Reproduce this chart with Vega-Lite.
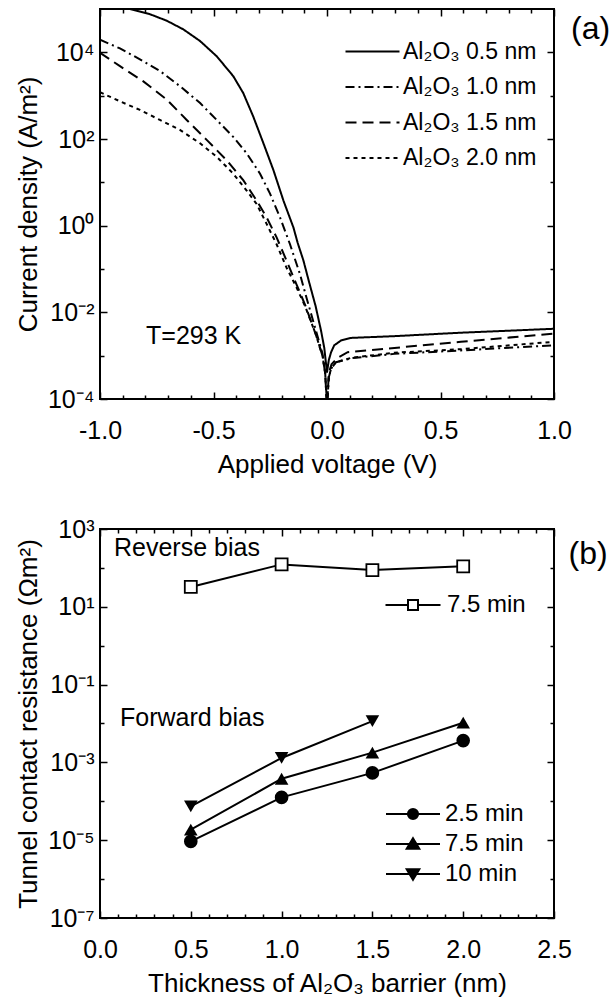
{
  "$schema": "https://vega.github.io/schema/vega-lite/v6.json",
  "padding": {"left": 14, "top": 0, "right": 0, "bottom": 0},
  "spacing": 130,
  "bounds": "flush",
  "config": {
    "view": {"stroke": "black", "strokeWidth": 2},
    "font": "Liberation Sans",
    "axis": {"domain": false, "grid": false, "tickColor": "black", "tickWidth": 1.5, "labelColor": "black", "titleColor": "black", "labelFont": "Liberation Sans", "titleFont": "Liberation Sans", "labelFontSize": 25, "titleFontSize": 26, "titleFontWeight": "normal", "labelFlush": false, "labelOverlap": false, "minExtent": 0},
    "legend": {"labelFont": "Liberation Sans", "labelColor": "black"},
    "text": {"font": "Liberation Sans", "color": "black"}
  },
  "datasets": {
    "jv": [
      {"series": "Al₂O₃ 0.5 nm", "V": -1.0, "J": 1.51e5},
      {"series": "Al₂O₃ 0.5 nm", "V": -0.868, "J": 1.0e5},
      {"series": "Al₂O₃ 0.5 nm", "V": -0.78, "J": 7.59e4},
      {"series": "Al₂O₃ 0.5 nm", "V": -0.706, "J": 5.37e4},
      {"series": "Al₂O₃ 0.5 nm", "V": -0.633, "J": 3.39e4},
      {"series": "Al₂O₃ 0.5 nm", "V": -0.559, "J": 1.82e4},
      {"series": "Al₂O₃ 0.5 nm", "V": -0.486, "J": 8.13e3},
      {"series": "Al₂O₃ 0.5 nm", "V": -0.413, "J": 2.82e3},
      {"series": "Al₂O₃ 0.5 nm", "V": -0.369, "J": 1.15e3},
      {"series": "Al₂O₃ 0.5 nm", "V": -0.325, "J": 331},
      {"series": "Al₂O₃ 0.5 nm", "V": -0.28, "J": 79.4},
      {"series": "Al₂O₃ 0.5 nm", "V": -0.236, "J": 19.1},
      {"series": "Al₂O₃ 0.5 nm", "V": -0.192, "J": 3.80},
      {"series": "Al₂O₃ 0.5 nm", "V": -0.148, "J": 0.912},
      {"series": "Al₂O₃ 0.5 nm", "V": -0.129, "J": 0.398},
      {"series": "Al₂O₃ 0.5 nm", "V": -0.104, "J": 0.158},
      {"series": "Al₂O₃ 0.5 nm", "V": -0.08, "J": 0.0525},
      {"series": "Al₂O₃ 0.5 nm", "V": -0.05, "J": 0.0138},
      {"series": "Al₂O₃ 0.5 nm", "V": -0.026, "J": 3.72e-3},
      {"series": "Al₂O₃ 0.5 nm", "V": -0.012, "J": 1.51e-3},
      {"series": "Al₂O₃ 0.5 nm", "V": 0.0, "J": 4.07e-4},
      {"series": "Al₂O₃ 0.5 nm", "V": 0.008, "J": 7.94e-4},
      {"series": "Al₂O₃ 0.5 nm", "V": 0.018, "J": 1.20e-3},
      {"series": "Al₂O₃ 0.5 nm", "V": 0.032, "J": 1.74e-3},
      {"series": "Al₂O₃ 0.5 nm", "V": 0.062, "J": 2.24e-3},
      {"series": "Al₂O₃ 0.5 nm", "V": 0.106, "J": 2.57e-3},
      {"series": "Al₂O₃ 0.5 nm", "V": 0.297, "J": 2.82e-3},
      {"series": "Al₂O₃ 0.5 nm", "V": 0.59, "J": 3.39e-3},
      {"series": "Al₂O₃ 0.5 nm", "V": 1.0, "J": 4.17e-3},

      {"series": "Al₂O₃ 1.0 nm", "V": -1.0, "J": 1.95e4},
      {"series": "Al₂O₃ 1.0 nm", "V": -0.912, "J": 1.23e4},
      {"series": "Al₂O₃ 1.0 nm", "V": -0.824, "J": 6.92e3},
      {"series": "Al₂O₃ 1.0 nm", "V": -0.736, "J": 3.72e3},
      {"series": "Al₂O₃ 1.0 nm", "V": -0.648, "J": 1.66e3},
      {"series": "Al₂O₃ 1.0 nm", "V": -0.559, "J": 676},
      {"series": "Al₂O₃ 1.0 nm", "V": -0.486, "J": 275},
      {"series": "Al₂O₃ 1.0 nm", "V": -0.413, "J": 112},
      {"series": "Al₂O₃ 1.0 nm", "V": -0.354, "J": 46.8},
      {"series": "Al₂O₃ 1.0 nm", "V": -0.295, "J": 15.8},
      {"series": "Al₂O₃ 1.0 nm", "V": -0.251, "J": 5.50},
      {"series": "Al₂O₃ 1.0 nm", "V": -0.207, "J": 1.55},
      {"series": "Al₂O₃ 1.0 nm", "V": -0.163, "J": 0.372},
      {"series": "Al₂O₃ 1.0 nm", "V": -0.119, "J": 0.0759},
      {"series": "Al₂O₃ 1.0 nm", "V": -0.09, "J": 0.0214},
      {"series": "Al₂O₃ 1.0 nm", "V": -0.05, "J": 3.98e-3},
      {"series": "Al₂O₃ 1.0 nm", "V": -0.02, "J": 1.12e-3},
      {"series": "Al₂O₃ 1.0 nm", "V": -0.008, "J": 3.98e-4},
      {"series": "Al₂O₃ 1.0 nm", "V": 0.0, "J": 7.94e-5},
      {"series": "Al₂O₃ 1.0 nm", "V": 0.008, "J": 3.16e-4},
      {"series": "Al₂O₃ 1.0 nm", "V": 0.018, "J": 5.01e-4},
      {"series": "Al₂O₃ 1.0 nm", "V": 0.04, "J": 7.08e-4},
      {"series": "Al₂O₃ 1.0 nm", "V": 0.106, "J": 8.71e-4},
      {"series": "Al₂O₃ 1.0 nm", "V": 0.297, "J": 1.10e-3},
      {"series": "Al₂O₃ 1.0 nm", "V": 0.59, "J": 1.32e-3},
      {"series": "Al₂O₃ 1.0 nm", "V": 1.0, "J": 1.74e-3},

      {"series": "Al₂O₃ 1.5 nm", "V": -1.0, "J": 9.77e3},
      {"series": "Al₂O₃ 1.5 nm", "V": -0.912, "J": 4.79e3},
      {"series": "Al₂O₃ 1.5 nm", "V": -0.809, "J": 2.14e3},
      {"series": "Al₂O₃ 1.5 nm", "V": -0.706, "J": 813},
      {"series": "Al₂O₃ 1.5 nm", "V": -0.618, "J": 275},
      {"series": "Al₂O₃ 1.5 nm", "V": -0.53, "J": 95.5},
      {"series": "Al₂O₃ 1.5 nm", "V": -0.442, "J": 32.4},
      {"series": "Al₂O₃ 1.5 nm", "V": -0.369, "J": 11.2},
      {"series": "Al₂O₃ 1.5 nm", "V": -0.31, "J": 3.80},
      {"series": "Al₂O₃ 1.5 nm", "V": -0.266, "J": 1.55},
      {"series": "Al₂O₃ 1.5 nm", "V": -0.222, "J": 0.537},
      {"series": "Al₂O₃ 1.5 nm", "V": -0.178, "J": 0.155},
      {"series": "Al₂O₃ 1.5 nm", "V": -0.134, "J": 0.0437},
      {"series": "Al₂O₃ 1.5 nm", "V": -0.097, "J": 0.0151},
      {"series": "Al₂O₃ 1.5 nm", "V": -0.05, "J": 3.16e-3},
      {"series": "Al₂O₃ 1.5 nm", "V": -0.02, "J": 1.0e-3},
      {"series": "Al₂O₃ 1.5 nm", "V": -0.008, "J": 3.98e-4},
      {"series": "Al₂O₃ 1.5 nm", "V": 0.0, "J": 6.31e-5},
      {"series": "Al₂O₃ 1.5 nm", "V": 0.008, "J": 3.98e-4},
      {"series": "Al₂O₃ 1.5 nm", "V": 0.02, "J": 6.31e-4},
      {"series": "Al₂O₃ 1.5 nm", "V": 0.047, "J": 8.91e-4},
      {"series": "Al₂O₃ 1.5 nm", "V": 0.091, "J": 1.20e-3},
      {"series": "Al₂O₃ 1.5 nm", "V": 0.297, "J": 1.51e-3},
      {"series": "Al₂O₃ 1.5 nm", "V": 0.59, "J": 2.09e-3},
      {"series": "Al₂O₃ 1.5 nm", "V": 1.0, "J": 3.24e-3},

      {"series": "Al₂O₃ 2.0 nm", "V": -1.0, "J": 1.20e3},
      {"series": "Al₂O₃ 2.0 nm", "V": -0.912, "J": 741},
      {"series": "Al₂O₃ 2.0 nm", "V": -0.824, "J": 468},
      {"series": "Al₂O₃ 2.0 nm", "V": -0.736, "J": 275},
      {"series": "Al₂O₃ 2.0 nm", "V": -0.648, "J": 162},
      {"series": "Al₂O₃ 2.0 nm", "V": -0.559, "J": 79.4},
      {"series": "Al₂O₃ 2.0 nm", "V": -0.486, "J": 38.9},
      {"series": "Al₂O₃ 2.0 nm", "V": -0.413, "J": 15.8},
      {"series": "Al₂O₃ 2.0 nm", "V": -0.354, "J": 6.46},
      {"series": "Al₂O₃ 2.0 nm", "V": -0.31, "J": 3.16},
      {"series": "Al₂O₃ 2.0 nm", "V": -0.266, "J": 1.10},
      {"series": "Al₂O₃ 2.0 nm", "V": -0.222, "J": 0.372},
      {"series": "Al₂O₃ 2.0 nm", "V": -0.178, "J": 0.107},
      {"series": "Al₂O₃ 2.0 nm", "V": -0.134, "J": 0.0372},
      {"series": "Al₂O₃ 2.0 nm", "V": -0.097, "J": 0.0141},
      {"series": "Al₂O₃ 2.0 nm", "V": -0.05, "J": 3.16e-3},
      {"series": "Al₂O₃ 2.0 nm", "V": -0.02, "J": 1.0e-3},
      {"series": "Al₂O₃ 2.0 nm", "V": -0.008, "J": 3.98e-4},
      {"series": "Al₂O₃ 2.0 nm", "V": 0.0, "J": 6.31e-5},
      {"series": "Al₂O₃ 2.0 nm", "V": 0.008, "J": 3.16e-4},
      {"series": "Al₂O₃ 2.0 nm", "V": 0.018, "J": 5.01e-4},
      {"series": "Al₂O₃ 2.0 nm", "V": 0.04, "J": 7.08e-4},
      {"series": "Al₂O₃ 2.0 nm", "V": 0.106, "J": 8.91e-4},
      {"series": "Al₂O₃ 2.0 nm", "V": 0.297, "J": 1.17e-3},
      {"series": "Al₂O₃ 2.0 nm", "V": 0.59, "J": 1.41e-3},
      {"series": "Al₂O₃ 2.0 nm", "V": 1.0, "J": 2.09e-3}
    ],
    "rt": [
      {"id": "r75", "grp": "rev", "label": "7.5 min", "t": 0.5, "R": 32.4},
      {"id": "r75", "grp": "rev", "label": "7.5 min", "t": 1.0, "R": 123},
      {"id": "r75", "grp": "rev", "label": "7.5 min", "t": 1.5, "R": 88},
      {"id": "r75", "grp": "rev", "label": "7.5 min", "t": 2.0, "R": 110},
      {"id": "f25", "grp": "fwd", "label": "2.5 min", "t": 0.5, "R": 9.3e-6},
      {"id": "f25", "grp": "fwd", "label": "2.5 min", "t": 1.0, "R": 1.26e-4},
      {"id": "f25", "grp": "fwd", "label": "2.5 min", "t": 1.5, "R": 5.37e-4},
      {"id": "f25", "grp": "fwd", "label": "2.5 min", "t": 2.0, "R": 3.63e-3},
      {"id": "f75", "grp": "fwd", "label": "7.5 min", "t": 0.5, "R": 1.86e-5},
      {"id": "f75", "grp": "fwd", "label": "7.5 min", "t": 1.0, "R": 3.8e-4},
      {"id": "f75", "grp": "fwd", "label": "7.5 min", "t": 1.5, "R": 1.78e-3},
      {"id": "f75", "grp": "fwd", "label": "7.5 min", "t": 2.0, "R": 1.05e-2},
      {"id": "f10", "grp": "fwd", "label": "10 min", "t": 0.5, "R": 7.4e-5},
      {"id": "f10", "grp": "fwd", "label": "10 min", "t": 1.0, "R": 1.3e-3},
      {"id": "f10", "grp": "fwd", "label": "10 min", "t": 1.5, "R": 1.15e-2}
    ]
  },
  "vconcat": [
    {
      "width": 454,
      "height": 390,
      "resolve": {"axis": {"x": "independent", "y": "independent"}},
      "layer": [
        {
          "data": {"name": "jv"},
          "mark": {"type": "line", "stroke": "black", "strokeWidth": 2, "clip": true},
          "encoding": {
            "x": {"field": "V", "type": "quantitative", "scale": {"domain": [-1, 1], "nice": false},
                  "axis": {"orient": "bottom", "values": [-1, -0.5, 0, 0.5, 1], "labelExpr": "replace(format(datum.value, '.1f'), '−', '-')", "tickSize": -7, "labelPadding": 26, "title": "Applied voltage (V)", "titlePadding": 8}},
            "y": {"field": "J", "type": "quantitative", "scale": {"type": "log", "domain": [0.0001, 100000], "nice": false},
                  "axis": {"orient": "left", "values": [0.0001, 0.01, 1, 100, 10000], "labelExpr": "'10' + ['⁻⁷','⁻⁶','⁻⁵','⁻⁴','⁻³','⁻²','⁻¹','⁰','¹','²','³','⁴','⁵'][round(log(datum.value)/LN10)+7]", "tickSize": -7, "labelPadding": 13, "title": "Current density (A/m²)", "titlePadding": 6}},
            "strokeDash": {"field": "series", "type": "nominal",
                           "scale": {"domain": ["Al₂O₃ 0.5 nm", "Al₂O₃ 1.0 nm", "Al₂O₃ 1.5 nm", "Al₂O₃ 2.0 nm"], "range": [[1, 0], [9, 4, 2, 4], [11, 6], [4, 4]]},
                           "legend": {"orient": "none", "legendX": 261, "legendY": 31, "title": null, "padding": 0, "symbolType": "M-2.7,0H2.7", "symbolSize": 400, "symbolStrokeColor": "black", "symbolStrokeWidth": 2, "labelFontSize": 23, "labelOffset": 19, "rowPadding": 11.5}}
          }
        },
        {
          "data": {"name": "jv"},
          "mark": {"type": "line", "opacity": 0},
          "encoding": {
            "x": {"field": "V", "type": "quantitative", "scale": {"domain": [-1, 1], "nice": false},
                  "axis": {"orient": "bottom", "values": [-0.9, -0.8, -0.7, -0.6, -0.4, -0.3, -0.2, -0.1, 0.1, 0.2, 0.3, 0.4, 0.6, 0.7, 0.8, 0.9], "labels": false, "title": null, "tickSize": -4}},
            "y": {"field": "J", "type": "quantitative", "scale": {"type": "log", "domain": [0.0001, 100000], "nice": false},
                  "axis": {"orient": "left", "values": [0.001, 0.1, 10, 1000], "labels": false, "title": null, "tickSize": -4}},
            "detail": {"field": "series"}
          }
        },
        {
          "data": {"name": "jv"},
          "mark": {"type": "line", "opacity": 0},
          "encoding": {
            "x": {"field": "V", "type": "quantitative", "scale": {"domain": [-1, 1], "nice": false},
                  "axis": {"orient": "top", "values": [-1, -0.5, 0, 0.5, 1], "labels": false, "title": null, "tickSize": -7}},
            "y": {"field": "J", "type": "quantitative", "scale": {"type": "log", "domain": [0.0001, 100000], "nice": false},
                  "axis": {"orient": "right", "values": [0.0001, 0.01, 1, 100, 10000], "labels": false, "title": null, "tickSize": -7}},
            "detail": {"field": "series"}
          }
        },
        {
          "data": {"name": "jv"},
          "mark": {"type": "line", "opacity": 0},
          "encoding": {
            "x": {"field": "V", "type": "quantitative", "scale": {"domain": [-1, 1], "nice": false},
                  "axis": {"orient": "top", "values": [-0.9, -0.8, -0.7, -0.6, -0.4, -0.3, -0.2, -0.1, 0.1, 0.2, 0.3, 0.4, 0.6, 0.7, 0.8, 0.9], "labels": false, "title": null, "tickSize": -4}},
            "y": {"field": "J", "type": "quantitative", "scale": {"type": "log", "domain": [0.0001, 100000], "nice": false},
                  "axis": {"orient": "right", "values": [0.001, 0.1, 10, 1000], "labels": false, "title": null, "tickSize": -4}},
            "detail": {"field": "series"}
          }
        },
        {
          "data": {"values": [{"V": -0.797, "J": 0.0028, "txt": "T=293 K"}]},
          "mark": {"type": "text", "align": "left", "baseline": "middle", "fontSize": 25},
          "encoding": {
            "x": {"field": "V", "type": "quantitative", "axis": null},
            "y": {"field": "J", "type": "quantitative", "scale": {"type": "log"}, "axis": null},
            "text": {"field": "txt"}
          }
        },
        {
          "data": {"values": [{"V": 1.075, "J": 35000, "txt": "(a)"}]},
          "mark": {"type": "text", "align": "left", "baseline": "middle", "fontSize": 32, "clip": false},
          "encoding": {
            "x": {"field": "V", "type": "quantitative", "axis": null},
            "y": {"field": "J", "type": "quantitative", "scale": {"type": "log"}, "axis": null},
            "text": {"field": "txt"}
          }
        }
      ]
    },
    {
      "width": 454,
      "height": 389,
      "resolve": {"axis": {"x": "independent", "y": "independent"}, "scale": {"shape": "independent"}},
      "layer": [
        {
          "data": {"name": "rt"},
          "mark": {"type": "line", "stroke": "black", "strokeWidth": 2},
          "encoding": {
            "x": {"field": "t", "type": "quantitative", "scale": {"domain": [0, 2.5], "nice": false},
                  "axis": {"orient": "bottom", "values": [0, 0.5, 1, 1.5, 2, 2.5], "format": ".1f", "tickSize": -7, "labelPadding": 26, "title": "Thickness of Al₂O₃ barrier (nm)", "titlePadding": 8}},
            "y": {"field": "R", "type": "quantitative", "scale": {"type": "log", "domain": [1e-7, 1000], "nice": false},
                  "axis": {"orient": "left", "values": [1e-7, 1e-5, 0.001, 0.1, 10, 1000], "labelExpr": "'10' + ['⁻⁷','⁻⁶','⁻⁵','⁻⁴','⁻³','⁻²','⁻¹','⁰','¹','²','³','⁴','⁵'][round(log(datum.value)/LN10)+7]", "tickSize": -7, "labelPadding": 13, "title": "Tunnel contact resistance (Ωm²)", "titlePadding": 6}},
            "detail": {"field": "id"}
          }
        },
        {
          "data": {"name": "rt"},
          "mark": {"type": "line", "opacity": 0},
          "encoding": {
            "x": {"field": "t", "type": "quantitative", "scale": {"domain": [0, 2.5], "nice": false},
                  "axis": {"orient": "bottom", "values": [0.1, 0.2, 0.3, 0.4, 0.6, 0.7, 0.8, 0.9, 1.1, 1.2, 1.3, 1.4, 1.6, 1.7, 1.8, 1.9, 2.1, 2.2, 2.3, 2.4], "labels": false, "title": null, "tickSize": -4}},
            "y": {"field": "R", "type": "quantitative", "scale": {"type": "log", "domain": [1e-7, 1000], "nice": false},
                  "axis": {"orient": "left", "values": [1e-6, 0.0001, 0.01, 1, 100], "labels": false, "title": null, "tickSize": -4}},
            "detail": {"field": "id"}
          }
        },
        {
          "data": {"name": "rt"},
          "mark": {"type": "line", "opacity": 0},
          "encoding": {
            "x": {"field": "t", "type": "quantitative", "scale": {"domain": [0, 2.5], "nice": false},
                  "axis": {"orient": "top", "values": [0, 0.5, 1, 1.5, 2, 2.5], "labels": false, "title": null, "tickSize": -7}},
            "y": {"field": "R", "type": "quantitative", "scale": {"type": "log", "domain": [1e-7, 1000], "nice": false},
                  "axis": {"orient": "right", "values": [1e-7, 1e-5, 0.001, 0.1, 10, 1000], "labels": false, "title": null, "tickSize": -7}},
            "detail": {"field": "id"}
          }
        },
        {
          "data": {"name": "rt"},
          "mark": {"type": "line", "opacity": 0},
          "encoding": {
            "x": {"field": "t", "type": "quantitative", "scale": {"domain": [0, 2.5], "nice": false},
                  "axis": {"orient": "top", "values": [0.1, 0.2, 0.3, 0.4, 0.6, 0.7, 0.8, 0.9, 1.1, 1.2, 1.3, 1.4, 1.6, 1.7, 1.8, 1.9, 2.1, 2.2, 2.3, 2.4], "labels": false, "title": null, "tickSize": -4}},
            "y": {"field": "R", "type": "quantitative", "scale": {"type": "log", "domain": [1e-7, 1000], "nice": false},
                  "axis": {"orient": "right", "values": [1e-6, 0.0001, 0.01, 1, 100], "labels": false, "title": null, "tickSize": -4}},
            "detail": {"field": "id"}
          }
        },
        {
          "data": {"name": "rt"},
          "transform": [{"filter": "datum.grp == 'rev'"}],
          "mark": {"type": "point", "shape": "square", "filled": true, "fill": "white", "stroke": "black", "strokeWidth": 1.8, "size": 144, "opacity": 1},
          "encoding": {
            "x": {"field": "t", "type": "quantitative", "axis": null},
            "y": {"field": "R", "type": "quantitative", "scale": {"type": "log"}, "axis": null}
          }
        },
        {
          "data": {"name": "rt"},
          "transform": [{"filter": "datum.grp == 'fwd'"}],
          "mark": {"type": "point", "filled": true, "color": "black", "size": 185, "opacity": 1},
          "encoding": {
            "x": {"field": "t", "type": "quantitative", "axis": null},
            "y": {"field": "R", "type": "quantitative", "scale": {"type": "log"}, "axis": null},
            "shape": {"field": "label", "type": "nominal", "scale": {"domain": ["2.5 min", "7.5 min", "10 min"], "range": ["circle", "triangle-up", "triangle-down"]}, "legend": null}
          }
        },
        {
          "data": {"name": "rt"},
          "transform": [{"filter": "datum.grp == 'rev'"}],
          "mark": {"type": "point", "filled": false, "color": "black", "strokeWidth": 2, "opacity": 0},
          "encoding": {
            "shape": {"field": "label", "type": "nominal", "scale": {"domain": ["7.5 min"], "range": ["M-5.5,0H-1M1,0H5.5M-1,-1H1V1H-1Z"]},
                      "legend": {"orient": "none", "legendX": 301, "legendY": 64, "title": null, "padding": 0, "symbolSize": 100, "symbolStrokeColor": "black", "symbolStrokeWidth": 2, "symbolOpacity": 1, "labelFontSize": 24, "labelOffset": 22}}
          }
        },
        {
          "data": {"name": "rt"},
          "transform": [{"filter": "datum.grp == 'fwd'"}],
          "mark": {"type": "point", "filled": false, "color": "black", "strokeWidth": 2, "opacity": 0},
          "encoding": {
            "shape": {"field": "label", "type": "nominal",
                      "scale": {"domain": ["2.5 min", "7.5 min", "10 min"], "range": [
                        "M-4.5,0H4.5M0.85,0A0.85,0.85,0,1,1,-0.85,0A0.85,0.85,0,1,1,0.85,0M0.6,0A0.6,0.6,0,1,1,-0.6,0A0.6,0.6,0,1,1,0.6,0M0.35,0A0.35,0.35,0,1,1,-0.35,0A0.35,0.35,0,1,1,0.35,0M0.12,0A0.12,0.12,0,1,1,-0.12,0A0.12,0.12,0,1,1,0.12,0",
                        "M-4.5,0H4.5M0,-0.95L1.05,0.8L-1.05,0.8ZM0,-0.483L0.63,0.567L-0.63,0.567ZM0,-0.075L0.2625,0.3625L-0.2625,0.3625Z",
                        "M-4.5,0H4.5M0,0.95L1.05,-0.8L-1.05,-0.8ZM0,0.483L0.63,-0.567L-0.63,-0.567ZM0,0.075L0.2625,-0.3625L-0.2625,-0.3625Z"]},
                      "legend": {"orient": "none", "legendX": 301, "legendY": 273, "title": null, "padding": 0, "symbolSize": 144, "symbolStrokeColor": "black", "symbolStrokeWidth": 2, "symbolOpacity": 1, "labelFontSize": 24, "labelOffset": 20, "rowPadding": 6}}
          }
        },
        {
          "data": {"values": [
            {"t": 0.077, "R": 324, "txt": "Reverse bias"},
            {"t": 0.11, "R": 0.0138, "txt": "Forward bias"}
          ]},
          "mark": {"type": "text", "align": "left", "baseline": "middle", "fontSize": 25},
          "encoding": {
            "x": {"field": "t", "type": "quantitative", "axis": null},
            "y": {"field": "R", "type": "quantitative", "scale": {"type": "log"}, "axis": null},
            "text": {"field": "txt"}
          }
        },
        {
          "data": {"values": [{"t": 2.58, "R": 230, "txt": "(b)"}]},
          "mark": {"type": "text", "align": "left", "baseline": "middle", "fontSize": 32, "clip": false},
          "encoding": {
            "x": {"field": "t", "type": "quantitative", "axis": null},
            "y": {"field": "R", "type": "quantitative", "scale": {"type": "log"}, "axis": null},
            "text": {"field": "txt"}
          }
        }
      ]
    }
  ]
}
